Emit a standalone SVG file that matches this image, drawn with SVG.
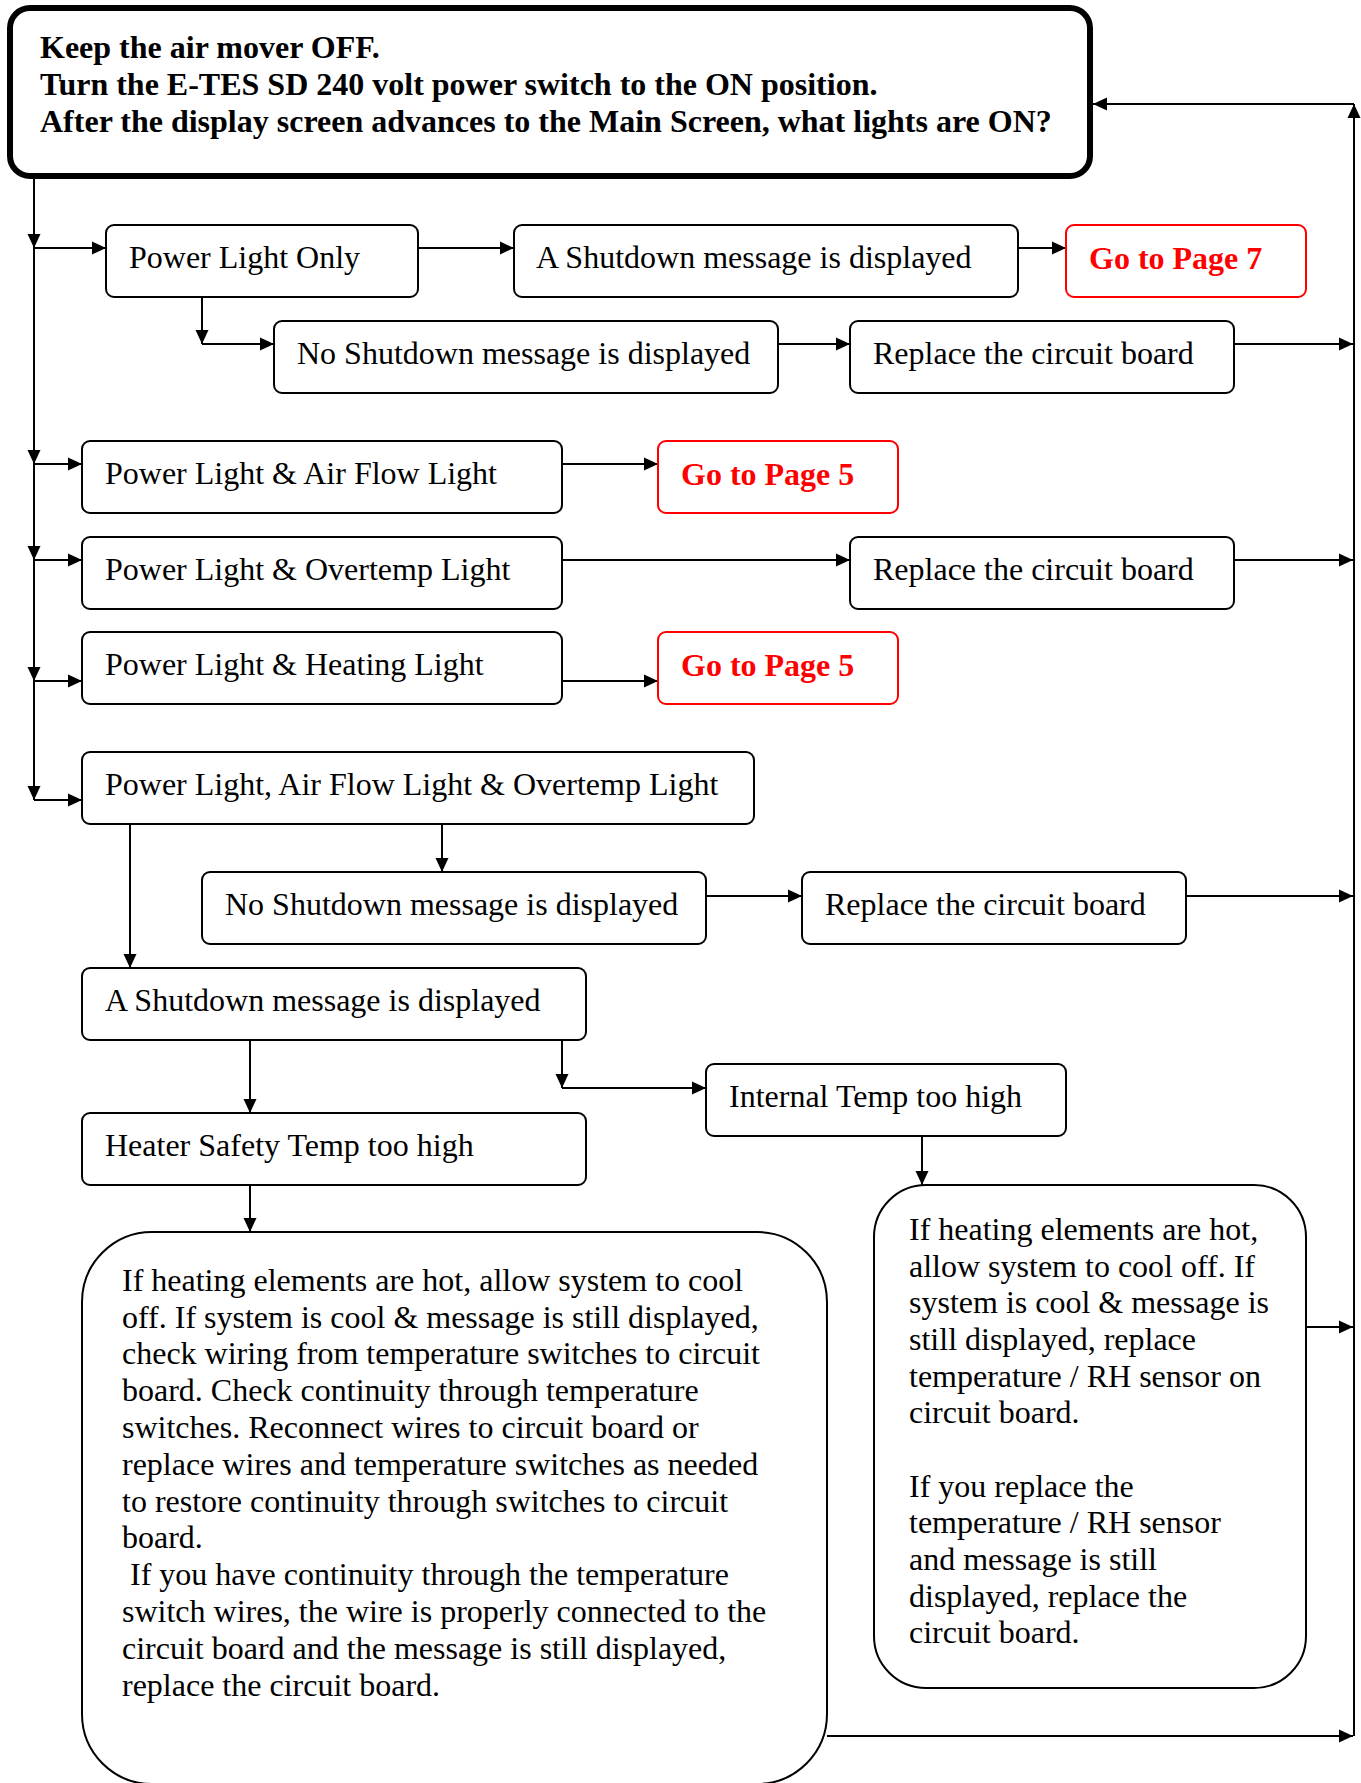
<svg xmlns="http://www.w3.org/2000/svg" width="1361" height="1783" viewBox="0 0 1361 1783">
<defs>
<marker id="ah" markerUnits="userSpaceOnUse" markerWidth="16" markerHeight="14" refX="15" refY="7" orient="auto">
<path d="M1,0.5 L15,7 L1,13.5 Z" fill="#000"/>
</marker>
<style>
.bx{fill:#fff;stroke:#000;stroke-width:2}
.rb{fill:#fff;stroke:#ff0000;stroke-width:2}
.t{font-family:"Liberation Serif","Times New Roman",serif;font-size:32px;fill:#000}
.b{font-family:"Liberation Serif","Times New Roman",serif;font-size:32px;font-weight:bold;fill:#000}
.r{font-family:"Liberation Serif","Times New Roman",serif;font-size:32px;font-weight:bold;fill:#ff0000}
.c path{fill:none;stroke:#000;stroke-width:2;marker-end:url(#ah)}
</style>
</defs>
<rect width="1361" height="1783" fill="#fff"/>
<g class="c" id="connectors">
<path d="M34,179 V248"/>
<path d="M34,248 V464"/>
<path d="M34,464 V560"/>
<path d="M34,560 V681"/>
<path d="M34,681 V800"/>
<path d="M34,248 H106"/>
<path d="M34,464 H82"/>
<path d="M34,560 H82"/>
<path d="M34,681 H82"/>
<path d="M34,800 H82"/>
<path d="M418,248 H514"/>
<path d="M1018,248 H1066"/>
<path d="M202,297 V344"/>
<path d="M202,344 H274"/>
<path d="M778,344 H850"/>
<path d="M1234,344 H1353"/>
<path d="M562,464 H658"/>
<path d="M562,560 H850"/>
<path d="M1234,560 H1353"/>
<path d="M562,681 H658"/>
<path d="M130,824 V968"/>
<path d="M442,824 V872"/>
<path d="M706,896 H802"/>
<path d="M1186,896 H1353"/>
<path d="M250,1041 V1113"/>
<path d="M562,1041 V1088"/>
<path d="M562,1088 H706"/>
<path d="M922,1136 V1185"/>
<path d="M250,1185 V1232"/>
<path d="M1306,1327 H1353"/>
<path d="M827,1736 H1353"/>
<path d="M1354,1736 V104"/>
<path d="M1354,104 H1093"/>
</g>
<g id="start">
<rect x="10" y="8" width="1080" height="168" rx="20" fill="#fff" stroke="#000" stroke-width="6"/>
<text class="b" x="40" y="58">Keep the air mover OFF.</text>
<text class="b" x="40" y="95">Turn the E-TES SD 240 volt power switch to the ON position.</text>
<text class="b" x="40" y="132">After the display screen advances to the Main Screen, what lights are ON?</text>
</g>
<g id="power-only"><rect class="bx" x="106" y="225" width="312" height="72" rx="8"/><text class="t" x="129" y="268">Power Light Only</text></g>
<g id="shutdown-1"><rect class="bx" x="514" y="225" width="504" height="72" rx="8"/><text class="t" x="536" y="268">A Shutdown message is displayed</text></g>
<g id="page7"><rect class="rb" x="1066" y="225" width="240" height="72" rx="8"/><text class="r" x="1089" y="269">Go to Page 7</text></g>
<g id="noshutdown-1"><rect class="bx" x="274" y="321" width="504" height="72" rx="8"/><text class="t" x="297" y="364">No Shutdown message is displayed</text></g>
<g id="replace-1"><rect class="bx" x="850" y="321" width="384" height="72" rx="8"/><text class="t" x="873" y="364">Replace the circuit board</text></g>
<g id="airflow"><rect class="bx" x="82" y="441" width="480" height="72" rx="8"/><text class="t" x="105" y="484">Power Light &amp; Air Flow Light</text></g>
<g id="page5-a"><rect class="rb" x="658" y="441" width="240" height="72" rx="8"/><text class="r" x="681" y="485">Go to Page 5</text></g>
<g id="overtemp"><rect class="bx" x="82" y="537" width="480" height="72" rx="8"/><text class="t" x="105" y="580">Power Light &amp; Overtemp Light</text></g>
<g id="replace-2"><rect class="bx" x="850" y="537" width="384" height="72" rx="8"/><text class="t" x="873" y="580">Replace the circuit board</text></g>
<g id="heating"><rect class="bx" x="82" y="632" width="480" height="72" rx="8"/><text class="t" x="105" y="675">Power Light &amp; Heating Light</text></g>
<g id="page5-b"><rect class="rb" x="658" y="632" width="240" height="72" rx="8"/><text class="r" x="681" y="676">Go to Page 5</text></g>
<g id="airflow-overtemp"><rect class="bx" x="82" y="752" width="672" height="72" rx="8"/><text class="t" x="105" y="795">Power Light, Air Flow Light &amp; Overtemp Light</text></g>
<g id="noshutdown-2"><rect class="bx" x="202" y="872" width="504" height="72" rx="8"/><text class="t" x="225" y="915">No Shutdown message is displayed</text></g>
<g id="replace-3"><rect class="bx" x="802" y="872" width="384" height="72" rx="8"/><text class="t" x="825" y="915">Replace the circuit board</text></g>
<g id="shutdown-2"><rect class="bx" x="82" y="968" width="504" height="72" rx="8"/><text class="t" x="105" y="1011">A Shutdown message is displayed</text></g>
<g id="internal-temp"><rect class="bx" x="706" y="1064" width="360" height="72" rx="8"/><text class="t" x="729" y="1107">Internal Temp too high</text></g>
<g id="heater-safety"><rect class="bx" x="82" y="1113" width="504" height="72" rx="8"/><text class="t" x="105" y="1156">Heater Safety Temp too high</text></g>
<g id="heater-action">
<rect class="bx" x="82" y="1232" width="745" height="552" rx="70"/>
<text class="t">
<tspan x="122" y="1291">If heating elements are hot, allow system to cool</tspan>
<tspan x="122" y="1328">off. If system is cool &amp; message is still displayed,</tspan>
<tspan x="122" y="1364">check wiring from temperature switches to circuit</tspan>
<tspan x="122" y="1401">board. Check continuity through temperature</tspan>
<tspan x="122" y="1438">switches. Reconnect wires to circuit board or</tspan>
<tspan x="122" y="1475">replace wires and temperature switches as needed</tspan>
<tspan x="122" y="1512">to restore continuity through switches to circuit</tspan>
<tspan x="122" y="1548">board.</tspan>
<tspan x="130" y="1585">If you have continuity through the temperature</tspan>
<tspan x="122" y="1622">switch wires, the wire is properly connected to the</tspan>
<tspan x="122" y="1659">circuit board and the message is still displayed,</tspan>
<tspan x="122" y="1696">replace the circuit board.</tspan>
</text>
</g>
<g id="internal-action">
<rect class="bx" x="874" y="1185" width="432" height="503" rx="52"/>
<text class="t">
<tspan x="909" y="1240">If heating elements are hot,</tspan>
<tspan x="909" y="1277">allow system to cool off. If</tspan>
<tspan x="909" y="1313">system is cool &amp; message is</tspan>
<tspan x="909" y="1350">still displayed, replace</tspan>
<tspan x="909" y="1387">temperature / RH sensor on</tspan>
<tspan x="909" y="1423">circuit board.</tspan>
<tspan x="909" y="1497">If you replace the</tspan>
<tspan x="909" y="1533">temperature / RH sensor</tspan>
<tspan x="909" y="1570">and message is still</tspan>
<tspan x="909" y="1607">displayed, replace the</tspan>
<tspan x="909" y="1643">circuit board.</tspan>
</text>
</g>
</svg>
